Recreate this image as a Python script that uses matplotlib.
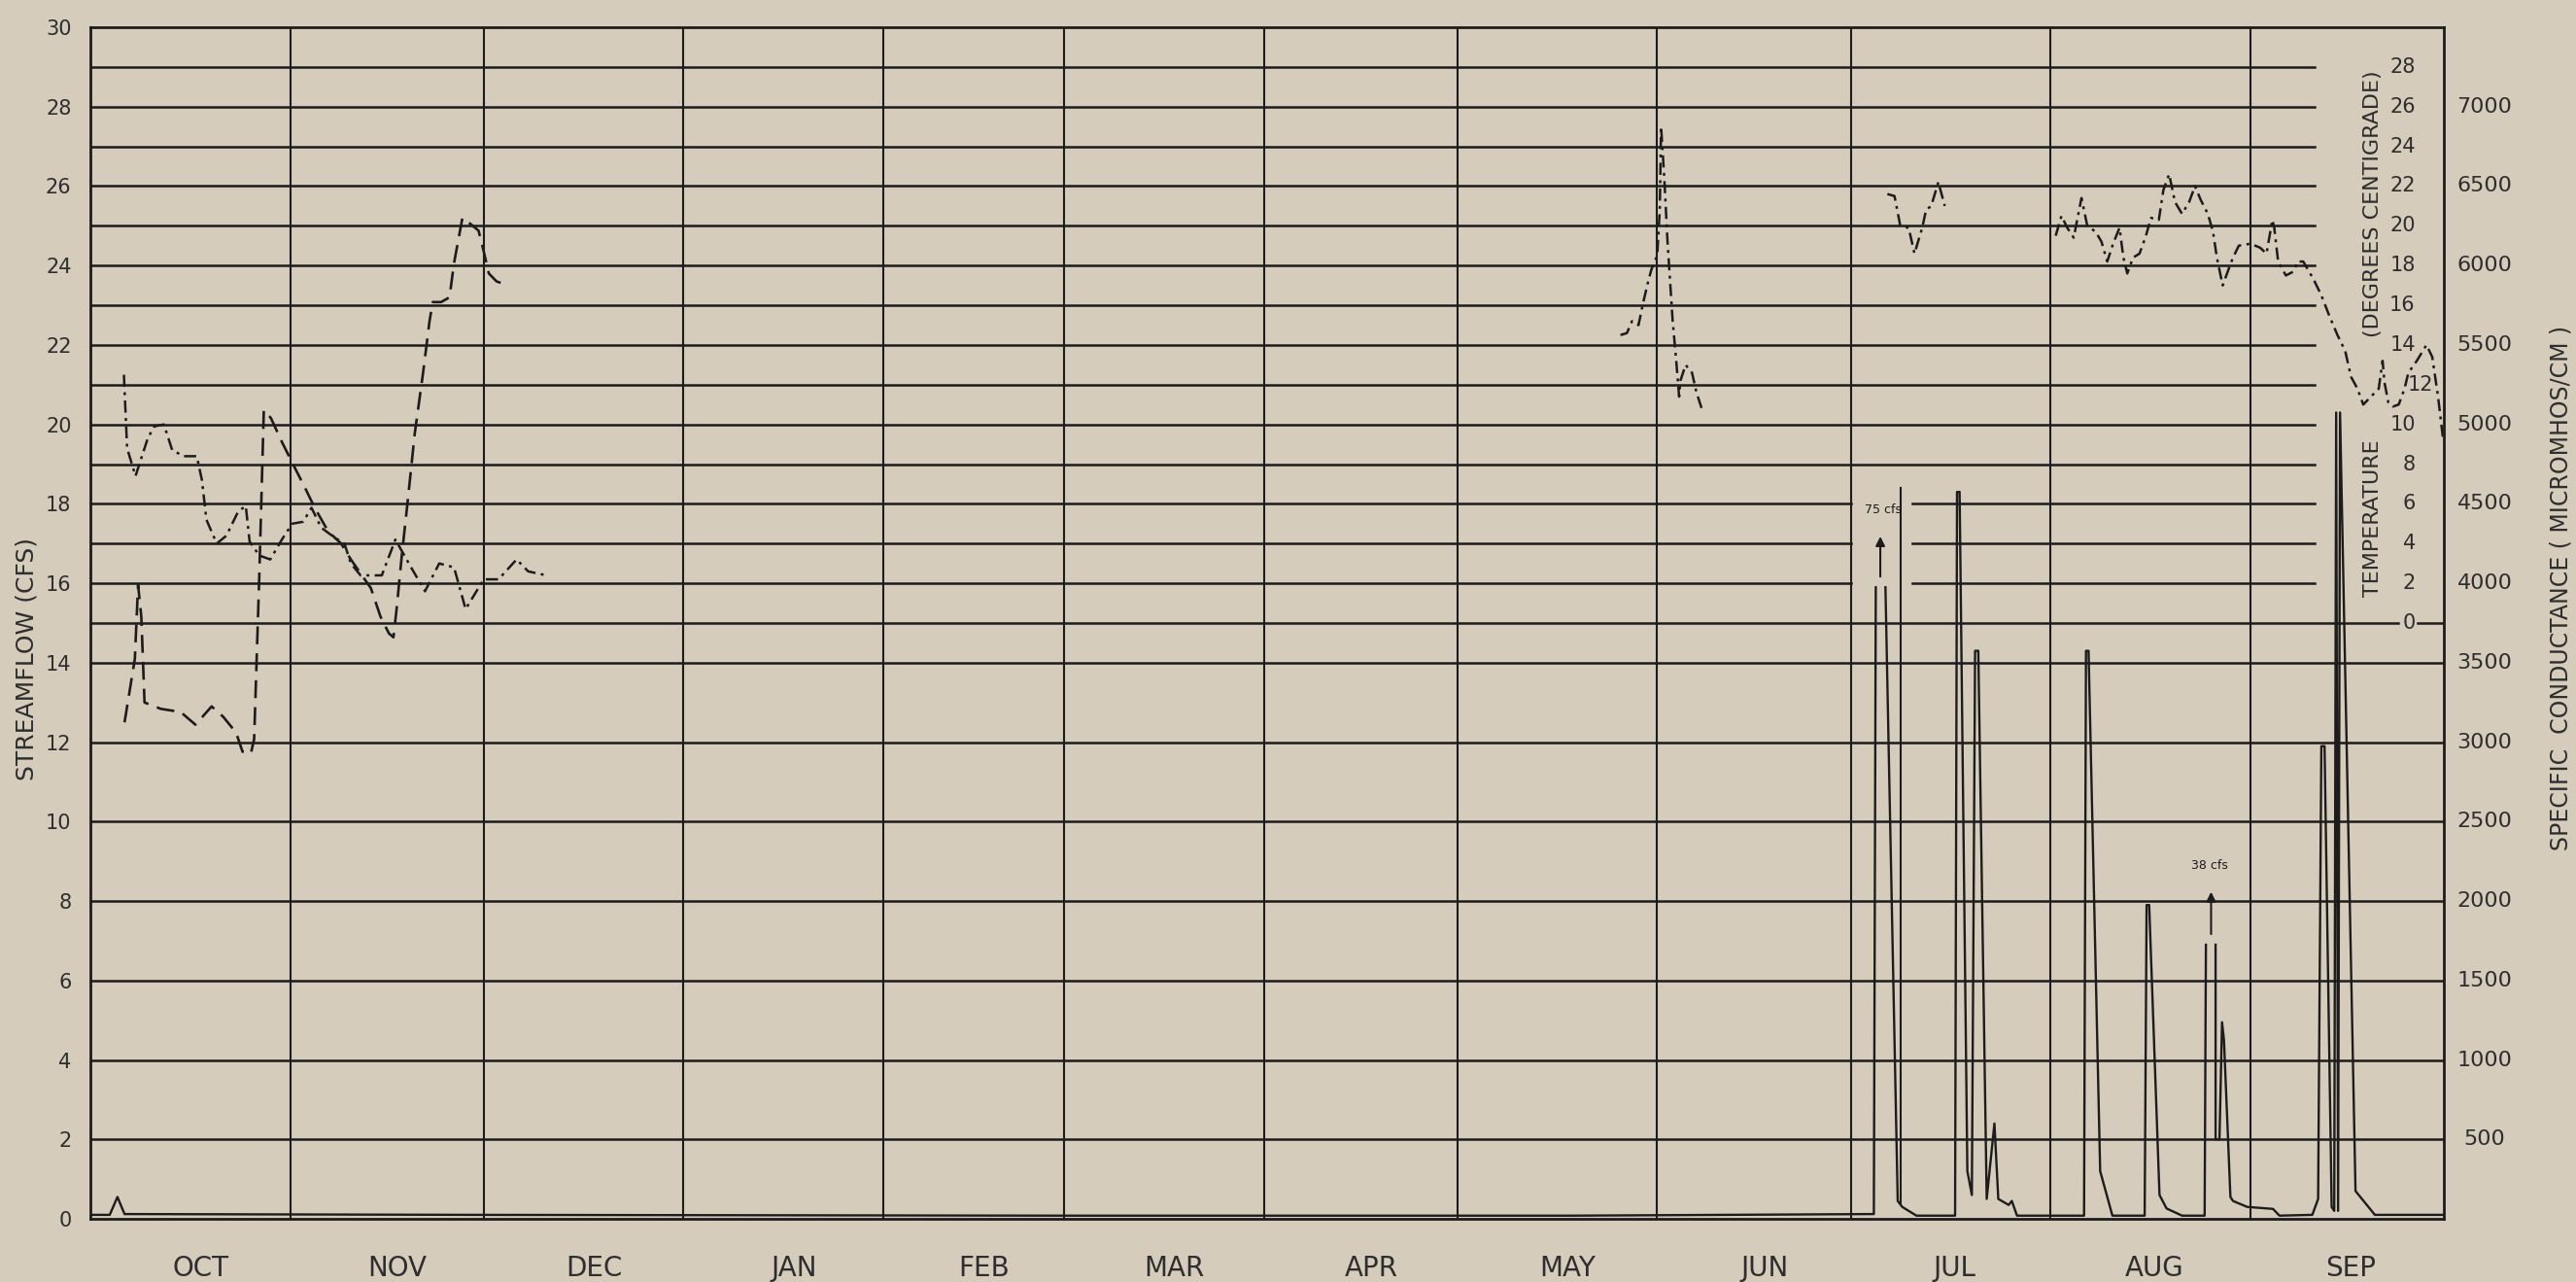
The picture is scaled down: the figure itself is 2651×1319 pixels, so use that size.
import numpy as np
import matplotlib
matplotlib.use("Agg")
import matplotlib.pyplot as plt
from matplotlib import transforms

# ---------------- data (x = day of water year, Oct 1 = 0) ----------------
months = ["OCT", "NOV", "DEC", "JAN", "FEB", "MAR", "APR", "MAY", "JUN", "JUL", "AUG", "SEP"]
month_days = [31, 30, 31, 31, 28, 31, 30, 31, 30, 31, 31, 30]

flow_ticks = list(range(0, 31, 2))
temp_ticks = list(range(0, 29, 2))
cond_ticks = list(range(500, 7001, 500))

# streamflow (cfs); NaN = gap where peak runs off scale
flow_day = [0, 3.0, 4.2, 5.3, 60, 150, 230, 276.6, 276.9, np.nan,
            278.4, 280.3, 281.0, 283.2, 289.2, 289.5, 289.9, 291.1, 291.8, 292.3,
            292.8, 294.1, 295.3, 295.9, 297.5, 298.0, 298.8, 309.2, 309.5, 309.9,
            311.7, 313.6, 318.6, 318.9, 319.3, 320.9, 322.0, 324.4, 327.9, 328.1,
            np.nan, 329.6, 329.6, 330.2, 330.6, 330.9, 331.9, 332.3, 334.5, 338.5,
            339.5, 344.6, 345.5, 346.0, 346.5, 347.6, 348.0, 348.3, 348.6, 348.9,
            351.3, 354.3, 365]
flow_cfs = [0.1, 0.1, 0.55, 0.12, 0.1, 0.08, 0.08, 0.12, 15.9, np.nan,
            15.9, 0.45, 0.3, 0.08, 0.08, 18.3, 18.3, 1.2, 0.6, 14.3,
            14.3, 0.5, 2.4, 0.5, 0.35, 0.45, 0.08, 0.08, 14.3, 14.3,
            1.2, 0.08, 0.08, 7.9, 7.9, 0.6, 0.26, 0.08, 0.08, 6.9,
            np.nan, 6.9, 2.0, 2.0, 4.95, 4.5, 0.55, 0.45, 0.3, 0.25,
            0.08, 0.1, 0.5, 11.9, 11.9, 0.3, 0.2, 20.3, 0.2, 20.3,
            0.7, 0.1, 0.1]
# second drawn recession limb of the 75 cfs event
flow2_day = [280.8, 280.8]
flow2_cfs = [18.4, 0.4]

# water temperature (deg C); NaN = no record
temp_day = [5.2, 5.7, 7.0, 8.9, 9.9, 11.4, 12.7, 14.5, 16.5, 17.3, 18.0, 19.6, 21.1, 22.9,
            24.1, 24.7, 26.2, 27.9, 29.7, 31.3, 33.0, 34.3, 35.8, 37.9, 39.4, 40.4, 41.9,
            44.0, 45.2, 47.3, 50.1, 51.9, 54.1, 56.4, 58.2, 61.0, 63.3, 66.1, 67.9, 70.7,
            np.nan,
            237.3, 238.3, 239.1, 240.1, 240.8, 241.6, 242.1, 243.0, 243.4, 243.6, 244.1,
            244.6, 245.4, 245.9, 246.4, 246.6, 247.4, 248.4, 249.1, 250.1,
            np.nan,
            278.7, 279.8, 280.7, 282.0, 282.9, 284.1, 284.7, 285.5, 286.6, 287.6,
            np.nan,
            304.8, 305.7, 306.6, 307.6, 308.8, 309.7, 311.0, 311.9, 312.8, 313.7, 314.7,
            315.3, 315.9, 316.8, 317.8, 318.7, 319.6, 320.8, 321.5, 322.4, 323.3, 324.4,
            325.5, 326.4, 327.3, 328.4, 329.2, 329.8, 330.7, 331.6, 332.3, 333.2, 335.0,
            336.5, 337.5, 338.4, 338.7, 339.3, 340.5, 341.7, 342.3, 343.2, 344.8, 346.0,
            347.2, 348.5, 349.7, 350.6, 351.6, 352.5, 353.7, 354.9, 355.5, 355.8, 356.4,
            357.1, 358.0, 358.9, 359.5, 360.8, 362.3, 363.2, 364.1, 364.9]
temp_c = [12.5, 8.8, 7.4, 9.3, 9.9, 10.0, 8.7, 8.4, 8.4, 7.2, 5.2, 4.0, 4.4, 5.6,
          5.9, 4.1, 3.4, 3.2, 4.2, 5.0, 5.1, 5.8, 4.8, 4.3, 4.0, 3.0, 2.4,
          2.4, 2.4, 4.2, 2.6, 1.6, 3.0, 2.8, 0.7, 2.2, 2.2, 3.2, 2.6, 2.4,
          np.nan,
          14.5, 14.6, 15.2, 15.0, 16.1, 17.2, 17.8, 18.5, 20.8, 25.0, 22.4,
          19.2, 15.2, 13.4, 11.4, 12.2, 13.0, 12.6, 11.6, 10.6,
          np.nan,
          21.6, 21.5, 20.0, 19.9, 18.6, 19.9, 20.8, 21.0, 22.2, 21.0,
          np.nan,
          19.5, 20.5, 19.9, 19.4, 21.4, 20.0, 19.7, 19.2, 18.2, 19.1, 19.9,
          18.4, 17.6, 18.4, 18.6, 19.4, 20.4, 20.3, 21.8, 22.6, 21.2, 20.6,
          21.2, 22.0, 21.3, 20.6, 19.7, 18.4, 17.0, 17.8, 18.4, 19.0, 19.1,
          18.9, 18.6, 20.3, 19.9, 18.2, 17.5, 17.7, 18.2, 18.2, 17.3, 16.5,
          15.5, 14.5, 13.7, 12.4, 11.8, 11.0, 11.4, 11.8, 13.2, 12.1, 11.1,
          10.9, 11.0, 11.8, 12.6, 13.2, 14.0, 13.4, 11.4, 9.2]

# specific conductance (micromhos/cm)
cond_day = [5.3, 6.9, 7.4, 7.9, 8.4, 10.9, 14.0, 16.3, 18.8, 20.6, 22.6, 23.6, 24.9, 25.4,
            26.2, 26.9, 28.0, 29.7, 31.3, 33.3, 34.8, 36.9, 38.9, 40.4, 42.2, 43.5, 45.0,
            46.3, 47.0, 47.5, 48.3, 49.3, 50.3, 51.6, 52.6, 53.1, 54.4, 55.7, 56.4, 57.7,
            59.0, 60.2, 61.0, 61.8, 63.0, 64.8]
cond_us = [3125, 3525, 3990, 3790, 3250, 3210, 3190, 3110, 3225, 3160, 3060, 2940, 2930, 3020,
           4050, 5090, 5040, 4890, 4760, 4600, 4475, 4325, 4250, 4150, 4045, 3970, 3790,
           3685, 3660, 3840, 4175, 4550, 4940, 5325, 5650, 5770, 5770, 5800, 6015, 6300,
           6260, 6220, 6090, 5950, 5900, 5875]

# ---------------- helpers: secondary scales mapped onto streamflow units ----------------
def t2f(t):
    return 15.0 + np.asarray(t, dtype=float) / 2.0

def c2f(c):
    return np.asarray(c, dtype=float) / 250.0

BG = "#d6ccbc"
INK = "#1c1c1c"
TXT = "#2e2e2e"
plt.rcParams["font.family"] = ["DejaVu Sans"]

W, H = 2651, 1319
fig = plt.figure(figsize=(W / 100, H / 100), dpi=100, facecolor=BG)
L, R, T, B = 93, 2515, 28, 1254
ax = fig.add_axes([L / W, 1 - B / H, (R - L) / W, (B - T) / H])
ax.set_facecolor(BG)
ax.set_xlim(0, 365)
ax.set_ylim(0, 30)
for s in ax.spines.values():
    s.set_linewidth(2.0)
    s.set_color(INK)

bounds = np.cumsum([0] + month_days)
glw = 1.8
gend = 345.0

# vertical month lines
for b in bounds[1:-1]:
    ax.plot([b, b], [0, 30], color=INK, lw=1.5, zorder=1)

# conductance grid (every 500) below temperature zero
for c in cond_ticks:
    v = c2f(c)
    if v <= 14:
        ax.plot([0, 365], [v, v], color=INK, lw=glw, zorder=1)
# temperature zero line (full width, gap for its label)
ax.plot([0, 357.9], [15, 15], color=INK, lw=glw, zorder=1)
ax.plot([360.9, 365], [15, 15], color=INK, lw=glw, zorder=1)
# temperature grid lines (every 2 deg), broken around the 75 cfs note
for tt in temp_ticks[1:]:
    v = t2f(tt)
    if v in (16, 17, 18):
        ax.plot([0, 273], [v, v], color=INK, lw=glw, zorder=1)
        ax.plot([282.5, gend], [v, v], color=INK, lw=glw, zorder=1)
    else:
        ax.plot([0, gend], [v, v], color=INK, lw=glw, zorder=1)

# data
ax.plot(flow_day, flow_cfs, color=INK, lw=1.7, zorder=3)
ax.plot(flow2_day, flow2_cfs, color=INK, lw=1.5, zorder=3)
ax.plot(temp_day, t2f(temp_c), color=INK, lw=1.8, ls=(0, (5, 2.2, 1.2, 2.2)), zorder=3)
ax.plot(cond_day, c2f(cond_us), color=INK, lw=1.9, ls=(0, (7, 3.5)), zorder=3)

# off-scale peak annotations
ax.annotate("", xy=(277.6, 17.25), xytext=(277.6, 16.1),
            arrowprops=dict(arrowstyle="-|>", color=INK, lw=1.5, mutation_scale=14))
ax.text(278.0, 17.85, "75 cfs", fontsize=9, ha="center", va="center", color=INK)
ax.annotate("", xy=(328.9, 8.3), xytext=(328.9, 7.1),
            arrowprops=dict(arrowstyle="-|>", color=INK, lw=1.5, mutation_scale=14))
ax.text(328.7, 8.9, "38 cfs", fontsize=9, ha="center", va="center", color=INK)

# left axis
ax.set_yticks(flow_ticks)
ax.set_yticklabels([str(v) for v in flow_ticks], fontsize=15, color=TXT)
ax.tick_params(axis="y", length=0, pad=14)
ax.set_xticks([])
fig.text(28 / W, 1 - 678 / H, "STREAMFLOW (CFS)", rotation=90, ha="center", va="center",
         fontsize=18, color=TXT)

# month labels
mids = (bounds[:-1] + bounds[1:]) / 2.0
for i, (m, x) in enumerate(zip(months, mids)):
    dx = 1.6 if i < 9 else 0.6
    ax.text(x + dx, -1.25, m, ha="center", va="center", fontsize=20, color=TXT, clip_on=False)

# temperature scale labels (inside plot, right-aligned)
for tt in temp_ticks:
    xo = 363.4 if tt == 12 else 360.6
    ax.text(xo, t2f(tt), str(tt), ha="right", va="center", fontsize=15, color=TXT, zorder=4)
ax.text(354.0, t2f(21.1), "(DEGREES CENTIGRADE)", rotation=90, ha="center", va="center",
        fontsize=16, color=TXT)
ax.text(354.0, t2f(5.3), "TEMPERATURE", rotation=90, ha="center", va="center",
        fontsize=16, color=TXT)

# conductance scale labels (outside right)
tr = transforms.blended_transform_factory(fig.transFigure, ax.transData)
for c in cond_ticks:
    ax.text(2557 / W, c2f(c), str(c), transform=tr, ha="center", va="center",
            fontsize=16, color=TXT, clip_on=False)
fig.text(2636 / W, 1 - 605 / H, "SPECIFIC  CONDUCTANCE ( MICROMHOS/CM )", rotation=90,
         ha="center", va="center", fontsize=17, color=TXT)

fig.savefig("out.png", dpi=100, facecolor=BG)
